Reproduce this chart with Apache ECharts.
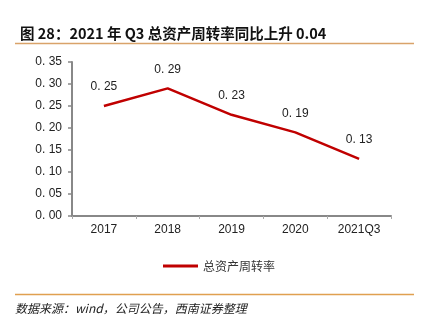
<!DOCTYPE html>
<html><head><meta charset="utf-8">
<script src="https://cdn.jsdelivr.net/npm/echarts@6/dist/echarts.min.js"></script>
<style>html,body{margin:0;padding:0;background:#fff}#c{width:422px;height:321px}</style>
</head><body><div id="c"></div>
<script>
const categories = ['2017', '2018', '2019', '2020', '2021Q3'];
const turnover = [0.25, 0.29, 0.23, 0.19, 0.13];
const yTicks = ['0.00','0.05','0.10','0.15','0.20','0.25','0.30','0.35'];
const seriesName = '总资产周转率';
const titleText = '图 28：2021 年 Q3 总资产周转率同比上升 0.04';
const sourceText = '数据来源：wind，公司公告，西南证券整理';

const fmt = v => v.toFixed(2).replace('.', '. ');
const chart = echarts.init(document.getElementById('c'), null, {renderer: 'canvas'});
chart.setOption({
  animation: false,
  title: {
    text: titleText, left: 15, top: 21,
    textStyle: {fontSize: 14.5, fontWeight: 'bold', color: '#111', fontFamily: 'Noto Sans CJK SC'}
  },
  graphic: [
    {type: 'line', shape: {x1: 15, y1: 43.5, x2: 414, y2: 43.5}, style: {stroke: '#D9A36A', lineWidth: 1.5}},
    {type: 'line', shape: {x1: 15, y1: 294.5, x2: 414, y2: 294.5}, style: {stroke: '#E0A050', lineWidth: 1.5}},
    {type: 'text', left: 15, top: 302, style: {text: sourceText, font: 'italic 12px "Noto Sans CJK SC"', fill: '#222'}}
  ],
  legend: {
    data: [seriesName], left: 158, top: 255, itemWidth: 35, itemHeight: 3, itemGap: 4,
    icon: 'rect',
    textStyle: {fontSize: 12, color: '#333', fontFamily: 'Noto Sans CJK SC'}
  },
  grid: {left: 72, right: 31, top: 62, bottom: 105},
  xAxis: {
    type: 'category', data: categories, boundaryGap: true,
    axisLine: {lineStyle: {color: '#888', width: 2}},
    axisTick: {show: true, length: 3, lineStyle: {color: '#aaa'}},
    axisLabel: {color: '#222', fontSize: 12, margin: 8, fontFamily: 'Liberation Sans'}
  },
  yAxis: {
    type: 'value', min: 0, max: 0.35, interval: 0.05,
    splitLine: {show: false},
    axisLine: {show: true, lineStyle: {color: '#888', width: 2}},
    axisTick: {show: true, length: 4, lineStyle: {color: '#888', width: 1.5}},
    axisLabel: {color: '#222', fontSize: 12, margin: 10, fontFamily: 'Liberation Sans',
      formatter: (v) => { const i = Math.round(v / 0.05); return (yTicks[i] || '').replace('.', '. '); }}
  },
  series: [{
    name: seriesName, type: 'line', data: turnover,
    symbol: 'circle', symbolSize: 0, showSymbol: true,
    lineStyle: {color: '#C00000', width: 2.5}, itemStyle: {color: '#C00000'},
    label: {show: true, position: 'top', distance: 13, formatter: p => fmt(p.value),
      color: '#222', fontSize: 12, fontFamily: 'Liberation Sans'}
  }]
});
</script></body></html>
